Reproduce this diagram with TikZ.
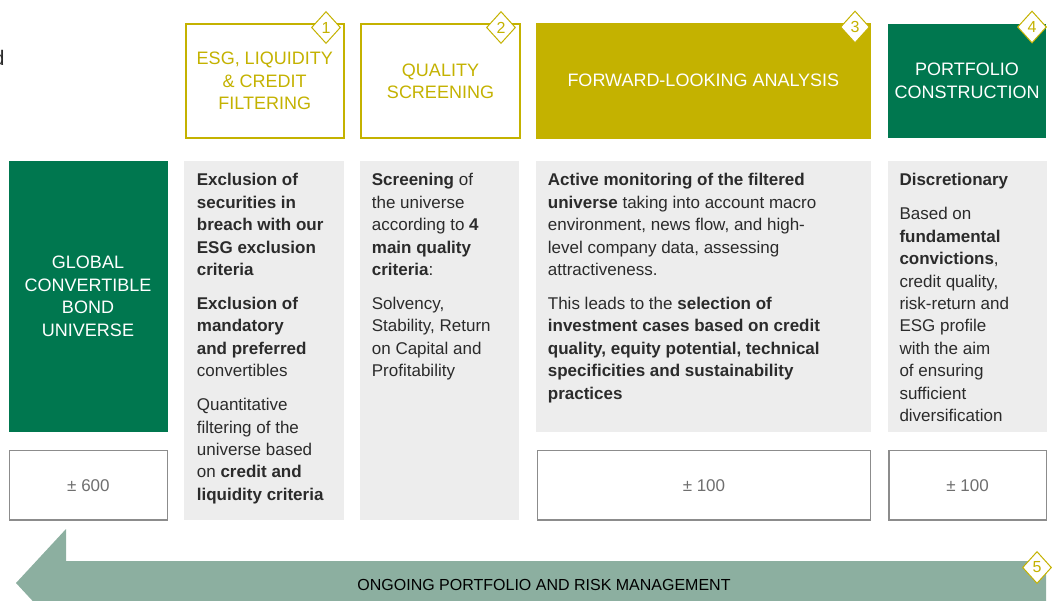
\documentclass[tikz,border=0pt]{standalone}
\usepackage{fontspec}
\setmainfont{Liberation Sans}
\usetikzlibrary{shapes.geometric}
\definecolor{ochre}{HTML}{C4B200}
\definecolor{dgreen}{HTML}{00774F}
\definecolor{arrowgreen}{HTML}{8CAFA0}
\definecolor{panel}{HTML}{EDEDED}
\definecolor{bodytext}{HTML}{2B2B2B}
\definecolor{numgray}{HTML}{6F6F6F}
\definecolor{framegray}{HTML}{8C8C8C}
\begin{document}
\begin{tikzpicture}[x=1pt,y=-1pt,
  hdrline/.style={draw=ochre,line width=2pt,fill=white,inner sep=0pt,anchor=north west,
    text=ochre,align=center,font=\fontsize{18}{22.5}\selectfont},
  hdrfill/.style={fill=#1,inner sep=0pt,anchor=north west,
    text=white,align=center,font=\fontsize{18}{22.5}\selectfont},
  panelbox/.style={fill=panel,inner sep=0pt,anchor=north west},
  countbox/.style={draw=framegray,line width=1.3pt,fill=white,inner sep=0pt,anchor=north west,
    text=numgray,font=\fontsize{17}{20}\selectfont},
  bodytxt/.style={font=\fontsize{17}{22.4}\selectfont,text=bodytext,align=left,inner sep=0pt,anchor=north west},
  badge/.style={diamond,draw=ochre,fill=white,line width=1pt,minimum width=29pt,minimum height=32pt,
    inner sep=0pt,text=ochre,font=\fontsize{16}{16}\selectfont},
]
\useasboundingbox (0,0) rectangle (1052,600);
\clip (0,0) rectangle (1052,600);

% cut-off text at left
\node[anchor=base east,inner sep=0pt,text=bodytext,font=\fontsize{21}{21}\selectfont] (cut) at (4.8,65.5) {d};

% header boxes
\node[hdrline,minimum width=157.5pt,minimum height=114pt] (h1) at (185,23.3) {ESG, LIQUIDITY\\\& CREDIT\\FILTERING};
\node[hdrline,minimum width=158.4pt,minimum height=114pt] (h2) at (360.3,23.3) {QUALITY\\SCREENING};
\node[hdrfill=ochre,minimum width=334.3pt,minimum height=115.6pt] (h3) at (536,22.7) {FORWARD-LOOKING ANALYSIS};
\node[hdrfill=dgreen,minimum width=158.3pt,minimum height=114.4pt] (h4) at (887.7,23.3) {PORTFOLIO\\CONSTRUCTION};

% step badges
\node[badge] (n1) at (326,27.5) {1};
\node[badge] (n2) at (501,27.5) {2};
\node[badge] (n3) at (855,27) {3};
\node[badge] (n4) at (1032,27) {4};

% universe box
\node[hdrfill=dgreen,minimum width=159pt,minimum height=271.5pt] (uni) at (8.3,160.5) {GLOBAL\\CONVERTIBLE\\BOND\\UNIVERSE};

% grey panels
\node[panelbox,minimum width=159.3pt,minimum height=358.5pt] (p1) at (184,161) {};
\node[panelbox,minimum width=158.5pt,minimum height=358.5pt] (p2) at (360,161) {};
\node[panelbox,minimum width=334.3pt,minimum height=271pt] (p3) at (536,161) {};
\node[panelbox,minimum width=159pt,minimum height=270.5pt] (p4) at (887.5,161) {};

% panel texts
\node[bodytxt] (t1) at (196.7,173.3) {\textbf{Exclusion of}\\\textbf{securities in}\\\textbf{breach with our}\\\textbf{ESG exclusion}\\\textbf{criteria}\\[11.6pt]\textbf{Exclusion of}\\\textbf{mandatory}\\\textbf{and preferred}\\convertibles\\[11.6pt]Quantitative\\filtering of the\\universe based\\on \textbf{credit and}\\\textbf{liquidity criteria}};
\node[bodytxt] (t2) at (371.7,173.3) {\textbf{Screening} of\\the universe\\according to \textbf{4}\\\textbf{main quality}\\\textbf{criteria}:\\[11.6pt]Solvency,\\Stability, Return\\on Capital and\\Profitability};
\node[bodytxt] (t3) at (547.7,173.3) {\textbf{Active monitoring of the filtered}\\\textbf{universe} taking into account macro\\environment, news flow, and high-\\level company data, assessing\\attractiveness.\\[11.6pt]This leads to the \textbf{selection of}\\\textbf{investment cases based on credit}\\\textbf{quality, equity potential, technical}\\\textbf{specificities and sustainability}\\\textbf{practices}};
\node[bodytxt] (t4) at (899.3,173.3) {\textbf{Discretionary}\\[11.6pt]Based on\\\textbf{fundamental}\\\textbf{convictions},\\credit quality,\\risk-return and\\ESG profile\\with the aim\\of ensuring\\sufficient\\diversification};

% count boxes
\node[countbox,minimum width=157.6pt,minimum height=69.8pt] (c1) at (9,449.6) {± 600};
\node[countbox,minimum width=333.4pt,minimum height=69.8pt] (c3) at (536.6,449.6) {± 100};
\node[countbox,minimum width=157.4pt,minimum height=69.8pt] (c4) at (888.3,449.6) {± 100};

% ongoing arrow
\fill[arrowgreen] (1046,561) -- (66,561) -- (66,529) -- (16,583) -- (66,637) -- (66,605) -- (1046,605) -- cycle;
\node[inner sep=0pt,text=black,font=\fontsize{16}{16}\selectfont] (ong) at (544,585) {ONGOING PORTFOLIO AND RISK MANAGEMENT};
\node[badge] (n5) at (1037,567.5) {5};
\end{tikzpicture}
\end{document}
